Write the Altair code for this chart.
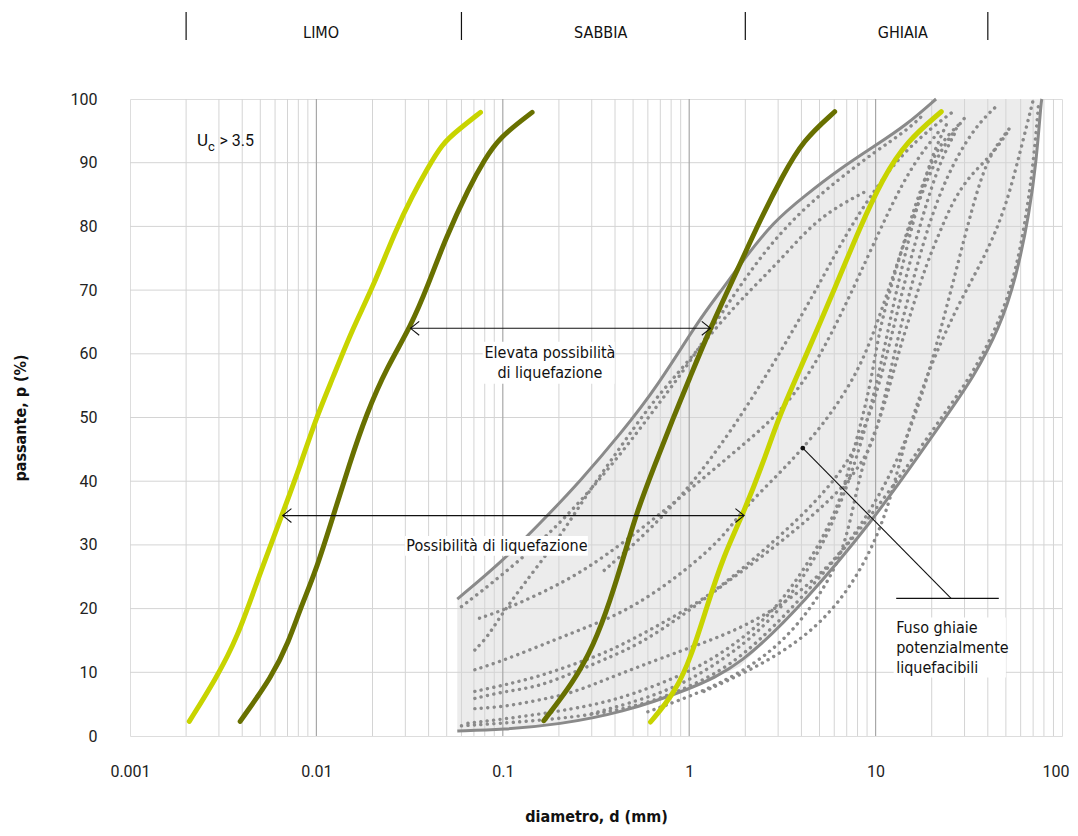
import altair as alt
import pandas as pd

# ---------------- data (diameter mm, passing %) ----------------
light_left = [(0.00208, 2.3), (0.00289, 9.0), (0.00378, 15.5), (0.00493, 25.2), (0.0066, 35.0),
              (0.0082, 42.5), (0.0099, 49.7), (0.0122, 56.1), (0.0156, 63.9), (0.02, 70.3),
              (0.0266, 79.4), (0.0327, 84.8), (0.0393, 89.0), (0.0473, 93.0), (0.058, 95.2),
              (0.0759, 97.9)]
dark_left = [(0.0039, 2.3), (0.0058, 9.4), (0.0071, 14.8), (0.0082, 20.0), (0.0099, 25.8),
             (0.0122, 34.2), (0.015, 42.6), (0.0185, 50.5), (0.024, 58.0), (0.032, 64.2),
             (0.04, 71.0), (0.0493, 78.1), (0.0658, 86.1), (0.08, 90.5), (0.0953, 93.9),
             (0.1436, 97.9)]
dark_right = [(0.166, 2.4), (0.239, 8.4), (0.307, 14.2), (0.375, 21.0), (0.459, 29.4),
              (0.52, 34.9), (0.652, 42.5), (0.818, 49.8), (1.0, 56.0), (1.29, 63.9),
              (1.87, 74.0), (2.4, 81.0), (3.18, 88.0), (4.07, 93.5), (6.03, 98.0)]
light_right = [(0.62, 2.2), (0.84, 6.8), (1.03, 12.6), (1.25, 20.5), (1.53, 28.3),
               (1.95, 34.9), (2.54, 43.5), (3.05, 50.4), (4.25, 59.8), (6.15, 70.8),
               (8.2, 79.7), (10.9, 87.5), (14.6, 93.3), (22.5, 98.0)]

upper_env = [(0.057, 21.5), (0.1, 27.5), (0.16, 33.5), (0.26, 40.0), (0.43, 47.5), (0.68, 55.0),
             (1.13, 65.4), (1.53, 70.4), (1.87, 74.0), (2.81, 80.7), (4.25, 85.0), (6.4, 89.0),
             (10.1, 92.8), (14.6, 95.9), (21.1, 100.0)]
lower_env = [(0.057, 0.8), (0.1, 1.0), (0.2, 1.8), (0.44, 3.7), (1.0, 7.3), (1.87, 10.9),
             (4.25, 21.3), (9.7, 33.9), (17.9, 44.9), (25.0, 51.0), (33.3, 56.2), (46.2, 64.0),
             (56.8, 71.9), (67.0, 82.3), (72.8, 90.2), (77.3, 99.6), (78.0, 100.0)]

fuso_01 = [(0.06, 20.3), (0.1, 25.3), (0.2, 33.0), (0.4, 43.0), (0.7, 52.5), (1.0, 58.5),
           (1.5, 66.5), (2.5, 76.0), (4.0, 82.5), (6.4, 87.5), (10.0, 91.8), (14.6, 95.0), (18.0, 97.5)]
fuso_02 = [(0.0708, 13.5), (0.083, 15.6), (0.094, 18.2), (0.126, 23.4), (0.2, 31.0), (0.28, 37.8),
           (0.42, 45.0), (0.6, 51.5), (0.9, 57.5), (1.3, 63.0), (1.87, 68.4), (3.1, 74.7),
           (4.9, 81.5), (9.0, 85.6)]
fuso_03 = [(0.075, 18.5), (0.102, 19.8), (0.19, 23.4), (0.29, 26.5), (0.45, 30.5), (0.76, 35.7),
           (1.25, 41.0), (2.0, 46.0), (3.0, 50.5), (4.5, 57.0), (6.5, 66.0), (9.0, 75.0),
           (12.0, 83.0), (16.0, 90.0), (22.0, 95.0)]
fuso_04 = [(0.0708, 10.4), (0.102, 11.9), (0.19, 15.1), (0.29, 17.2), (0.43, 19.3), (0.65, 22.4),
           (1.0, 26.5), (1.5, 31.0), (2.0, 36.0), (3.0, 41.0), (4.07, 45.2), (5.6, 50.0),
           (8.0, 57.0), (10.0, 64.0), (13.0, 74.0), (17.0, 84.0), (22.0, 92.0), (30.0, 97.0)]
fuso_05 = [(0.0708, 7.0), (0.102, 8.0), (0.154, 9.3), (0.233, 11.1), (0.352, 13.0), (0.53, 15.6),
           (0.8, 18.5), (1.2, 21.5), (1.8, 25.5), (2.7, 30.0), (4.0, 34.5), (6.0, 40.0),
           (8.0, 45.5), (10.0, 53.0), (12.0, 62.0), (14.5, 72.0), (18.0, 82.0), (22.0, 90.0),
           (27.0, 95.0)]
fuso_06 = [(0.0708, 5.9), (0.102, 7.0), (0.154, 7.7), (0.233, 9.8), (0.35, 12.0), (0.55, 14.5),
           (0.93, 19.0), (1.5, 23.6), (2.5, 28.3), (4.2, 33.6), (6.9, 39.3), (9.5, 45.0),
           (11.0, 52.0), (13.0, 62.0), (16.0, 72.0), (20.0, 82.0), (26.0, 90.0), (35.0, 96.0),
           (45.0, 99.0)]
fuso_07 = [(0.0708, 4.3), (0.102, 4.6), (0.154, 5.6), (0.233, 6.7), (0.352, 8.8), (0.55, 11.0),
           (0.93, 13.5), (2.0, 17.0), (4.2, 23.0), (6.9, 29.4), (10.3, 37.3), (14.0, 45.0),
           (18.0, 54.0), (22.0, 63.0), (27.0, 73.0), (33.0, 83.0), (40.0, 91.0), (52.0, 95.3)]
fuso_08 = [(0.065, 2.0), (0.126, 3.0), (0.288, 4.6), (0.5, 6.5), (1.0, 10.0), (1.6, 13.5),
           (2.5, 18.0), (3.5, 23.0), (5.0, 30.0), (6.5, 37.0), (7.5, 44.0), (8.5, 50.0),
           (9.5, 56.0), (10.5, 64.0), (12.5, 72.0), (15.0, 80.0), (18.0, 87.0), (22.0, 93.0),
           (28.0, 96.0)]
fuso_09 = [(0.06, 1.6), (0.2, 2.6), (0.5, 4.3), (1.0, 7.6), (1.87, 11.8), (4.25, 22.3),
           (9.7, 34.8), (17.9, 45.8), (25.0, 51.8), (33.3, 57.0), (46.2, 65.0), (56.8, 73.0),
           (65.0, 82.5), (70.5, 90.5), (75.0, 99.5)]
fuso_10 = [(0.6, 3.8), (1.2, 7.0), (2.2, 11.0), (3.5, 16.0), (5.0, 22.0), (6.5, 28.0), (7.5, 35.0),
           (8.5, 43.0), (10.9, 50.6), (12.9, 59.0), (15.9, 67.6), (18.7, 74.0), (22.0, 79.0),
           (26.0, 84.0), (32.0, 88.0), (42.7, 91.4), (52.4, 95.3)]
fuso_11 = [(0.3, 3.5), (0.7, 6.5), (1.2, 10.0), (2.0, 14.5), (3.0, 19.5), (4.0, 24.5), (5.2, 30.0),
           (6.5, 36.5), (8.0, 44.0), (9.5, 52.0), (11.0, 60.0), (12.5, 68.0), (14.5, 76.0),
           (17.0, 84.0), (20.0, 91.0), (24.0, 96.0)]
fuso_12 = [(1.2, 7.0), (2.2, 10.5), (4.0, 15.0), (6.5, 21.0), (9.5, 29.0), (12.0, 37.0),
           (14.0, 45.0), (17.0, 53.0), (21.0, 60.0), (28.0, 68.0), (39.0, 75.5), (50.0, 83.0),
           (60.0, 92.0), (70.0, 99.8)]
fuso_13 = [(0.35, 26.0), (0.6, 32.0), (1.0, 39.0), (1.6, 47.0), (2.4, 55.0), (3.5, 63.0),
           (5.0, 71.0), (7.0, 79.0), (10.0, 86.0), (14.0, 91.5), (20.0, 95.5), (26.0, 98.0)]
fuso_curves = [fuso_01, fuso_02, fuso_03, fuso_04, fuso_05, fuso_06, fuso_07,
               fuso_08, fuso_09, fuso_10, fuso_11, fuso_12, fuso_13]

x_ticks = [0.001, 0.01, 0.1, 1, 10, 100]
y_ticks = [0, 10, 20, 30, 40, 50, 60, 70, 80, 90, 100]
major_grid = [0.01, 0.1, 1, 10]
minor_grid = [k * 10.0 ** e for e in range(-3, 2) for k in range(2, 10)]
h_grid = [10, 20, 30, 40, 50, 60, 70, 80, 90]

zone_limits = [0.002, 0.06, 2, 40]
zone_names = ["LIMO", "SABBIA", "GHIAIA"]
zone_centres = [0.0106, 0.335, 14.0]

arrow_high = {"d1": 0.032, "d2": 1.30, "p": 64.0}
arrow_low = {"d1": 0.0066, "d2": 1.97, "p": 34.6}
pointer = {"d1": 4.07, "p1": 45.2, "d2": 25.4, "p2": 21.6, "d3": 12.9, "d4": 45.8}

FONT_C = "Liberation Sans Narrow, DejaVu Sans Condensed, Roboto"
FONT_N = "Roboto, Noto Sans, DejaVu Sans"
LIGHT = "#c8d400"
DARK = "#687000"
GREY = "#8a8a8a"

W, H = 932, 637

XS = alt.Scale(type="log", domain=[0.001, 100], nice=False)
YS = alt.Scale(domain=[0, 100], nice=False)
X_AXIS = alt.Axis(values=x_ticks, format="~g", grid=False, ticks=False, domain=False,
                  labelFont=FONT_N, labelFontSize=16, labelColor="#222", labelPadding=27,
                  labelFlush=False,
                  labelAlign={"condition": {"test": "datum.value >= 100", "value": "right"},
                              "value": "center"},
                  labelOffset={"condition": {"test": "datum.value >= 100", "value": 7},
                               "value": 0},
                  title="diametro, d (mm)", titleFont=FONT_C,
                  titleFontSize=16, titleFontWeight="bold", titleColor="#111",
                  titleX=W / 2, titleY=80, titleBaseline="middle")
Y_AXIS = alt.Axis(values=y_ticks, grid=False, ticks=False, domain=False, labelFont=FONT_N,
                  labelFontSize=16, labelColor="#222", labelPadding=33, labelFlush=False,
                  title="passante, p (%)", titleFont=FONT_C, titleFontSize=16,
                  titleFontWeight="bold", titleColor="#111", titleX=-110, titleY=H / 2,
                  titleAngle=270, titleAlign="center", titleBaseline="middle")


def frame(seq, name=""):
    return pd.DataFrame({"d": [p[0] for p in seq], "p": [p[1] for p in seq], "s": name})


def X(field="d"):
    return alt.X(f"{field}:Q", scale=XS, axis=X_AXIS)


def Y(field="p"):
    return alt.Y(f"{field}:Q", scale=YS, axis=Y_AXIS)


# band polygon
poly = upper_env + list(reversed(lower_env))
band_df = pd.DataFrame({"d": [p[0] for p in poly], "p": [p[1] for p in poly],
                        "o": list(range(len(poly)))})
band = alt.Chart(band_df).mark_line(fill="#ececec", strokeOpacity=0, interpolate="linear").encode(
    x=X(), y=Y(), order="o:Q")

minor = alt.Chart(pd.DataFrame({"d": minor_grid})).mark_rule(color="#d4d4d4", strokeWidth=1).encode(
    x=X())
hgrid = alt.Chart(pd.DataFrame({"p": h_grid})).mark_rule(color="#d4d4d4", strokeWidth=1).encode(
    y=Y())
major = alt.Chart(pd.DataFrame({"d": major_grid})).mark_rule(color="#a8a8a8", strokeWidth=1.2).encode(
    x=X())

env = pd.concat([frame(upper_env, "up"), frame(lower_env, "low")])
env_lines = alt.Chart(env).mark_line(color=GREY, strokeWidth=3, interpolate="basis").encode(
    x=X(), y=Y(), detail="s:N")

dots_df = pd.concat([frame(c, f"f{i}") for i, c in enumerate(fuso_curves)])
dots = alt.Chart(dots_df).mark_line(color=GREY, strokeWidth=3.4, strokeCap="round",
                                    strokeDash=[0.1, 6.4], interpolate="basis").encode(
    x=X(), y=Y(), detail="s:N")

col_df = pd.concat([frame(light_left, "L1"), frame(light_right, "L2"),
                    frame(dark_left, "D1"), frame(dark_right, "D2")])
col_lines = alt.Chart(col_df).mark_line(strokeWidth=5, strokeCap="round", interpolate="basis").encode(
    x=X(), y=Y(), detail="s:N",
    color=alt.Color("s:N", scale=alt.Scale(domain=["L1", "L2", "D1", "D2"],
                                           range=[LIGHT, LIGHT, DARK, DARK]), legend=None))

# white boxes behind labels
boxes = pd.DataFrame({"d": [0.078, 0.0298, 12.5], "d2": [0.398, 0.286, 50.0],
                      "p": [55.3, 28.3, 9.2], "p2": [61.9, 31.4, 18.6]})
box_layer = alt.Chart(boxes).mark_rect(color="white").encode(
    x=X(), x2="d2:Q", y=Y(), y2="p2:Q")

arrows = pd.DataFrame([arrow_high, arrow_low])
arrow_rule = alt.Chart(arrows).mark_rule(color="#111", strokeWidth=1.1).encode(
    x=X("d1"), x2="d2:Q", y=Y())
head_r = alt.Chart(arrows).mark_point(shape="M-1,-0.8L0,0L-1,0.8", filled=False, size=300,
                                      color="#111", strokeWidth=1.1, opacity=1).encode(
    x=X("d2"), y=Y())
head_l = alt.Chart(arrows).mark_point(shape="M1,-0.8L0,0L1,0.8", filled=False, size=300,
                                      color="#111", strokeWidth=1.1, opacity=1).encode(
    x=X("d1"), y=Y())

ptr = pd.DataFrame([pointer])
ptr_line = alt.Chart(ptr).mark_rule(color="#111", strokeWidth=1.1).encode(
    x=X("d1"), x2="d2:Q", y=Y("p1"), y2="p2:Q")
ptr_h = alt.Chart(ptr).mark_rule(color="#111", strokeWidth=1.1).encode(
    x=X("d3"), x2="d4:Q", y=Y("p2"))
ptr_dot = alt.Chart(ptr).mark_circle(color="#111", size=22, opacity=1).encode(x=X("d1"), y=Y("p1"))

labels = pd.DataFrame({
    "d": [0.179, 0.179, 0.093, 12.9, 12.9, 12.9],
    "p": [60.1, 57.0, 29.8, 16.9, 13.8, 10.7],
    "t": ["Elevata possibilità", "di liquefazione", "Possibilità di liquefazione",
          "Fuso ghiaie", "potenzialmente", "liquefacibili"],
    "a": ["center", "center", "center", "left", "left", "left"],
})
txt_c = alt.Chart(labels[labels.a == "center"]).mark_text(
    font=FONT_C, fontSize=16, color="#111", align="center", baseline="middle").encode(
    x=X(), y=Y(), text="t:N")
txt_l = alt.Chart(labels[labels.a == "left"]).mark_text(
    font=FONT_C, fontSize=16, color="#111", align="left", baseline="middle").encode(
    x=X(), y=Y(), text="t:N")

uc = pd.DataFrame({"d": [0.00229, 0.00262, 0.00302], "p": [93.4, 92.4, 93.4],
                   "t": ["U", "c", "> 3.5"], "fs": [17, 13, 16]})
uc_txt = alt.Chart(uc).mark_text(font=FONT_N, color="#111", align="left", baseline="middle").encode(
    x=X(), y=Y(), text="t:N", size=alt.Size("fs:Q", scale=None, legend=None))

zone_rule = alt.Chart(pd.DataFrame({"d": zone_limits})).mark_rule(color="#111", strokeWidth=1.2).encode(
    x=X(), y=alt.value(-87), y2=alt.value(-59))
zone_txt = alt.Chart(pd.DataFrame({"d": zone_centres, "t": zone_names})).mark_text(
    font=FONT_C, fontSize=16, color="#111", align="center", baseline="middle").encode(
    x=X(), y=alt.value(-66), text="t:N")

chart = alt.layer(
    band, minor, hgrid, major, env_lines, dots, box_layer, col_lines,
    arrow_rule, head_r, head_l, ptr_line, ptr_h, ptr_dot, txt_c, txt_l, uc_txt,
    zone_rule, zone_txt,
).properties(
    width=W, height=H,
    autosize=alt.AutoSizeParams(type="none"),
    padding={"left": 122, "top": 91, "right": 8, "bottom": 92},
).configure_view(stroke="#a3a3a3", strokeWidth=1.6).configure(background="white")

chart.save("out.html", embed_options={"renderer": "svg", "actions": False})
